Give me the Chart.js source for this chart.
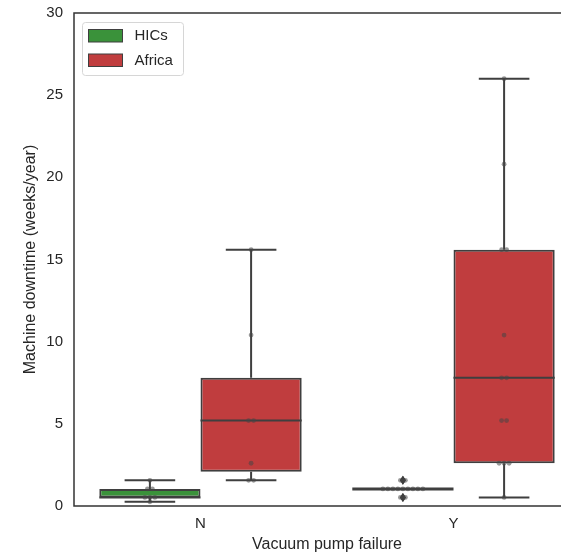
<!DOCTYPE html>
<html>
<head>
<meta charset="utf-8">
<title>Machine downtime</title>
<script src="https://cdn.jsdelivr.net/npm/chart.js@4/dist/chart.umd.min.js"></script>
<style>
  html, body { margin: 0; padding: 0; background: #fff; overflow: hidden; }
  #wrap { width: 582px; height: 558px; }
</style>
</head>
<body>
<div id="wrap"><canvas id="downtimeChart" width="582" height="558"></canvas></div>
<script>
// downtime in weeks/year, split by vacuum pump failure (N / Y)
const categories = ['N', 'Y'];
const groups = ['HICs', 'Africa'];
const groupColors = ['#3a923a', '#c03d3e'];
const hicsN = [0.26, 0.52, 0.52, 0.52, 1.04, 1.04, 1.56];
const hicsY = [0.52, 0.52, 1.04, 1.04, 1.04, 1.04, 1.04, 1.04, 1.04, 1.04, 1.04, 1.56, 1.56];
const africaN = [1.56, 1.56, 2.6, 5.2, 5.2, 10.4, 15.6];
const africaY = [0.52, 2.6, 2.6, 2.6, 5.2, 5.2, 7.8, 7.8, 10.4, 15.6, 15.6, 20.8, 26];
const yTicks = [0, 5, 10, 15, 20, 25, 30];

const samples = [[hicsN, hicsY], [africaN, africaY]];

const lineColor = '#3f3f3f';
const textColor = '#262626';
const fontFamily = '"Liberation Sans", Arial, sans-serif';

function quantile(sorted, p) {
    const pos = (sorted.length - 1) * p;
    const lo = Math.floor(pos), hi = Math.ceil(pos);
    return sorted[lo] + (sorted[hi] - sorted[lo]) * (pos - lo);
}

function boxStats(values) {
    const s = values.slice().sort((a, b) => a - b);
    const q1 = quantile(s, 0.25), med = quantile(s, 0.5), q3 = quantile(s, 0.75);
    const iqr = q3 - q1;
    const inside = s.filter(v => v >= q1 - 1.5 * iqr - 1e-9 && v <= q3 + 1.5 * iqr + 1e-9);
    return {
        q1, med, q3,
        lo: Math.min(...inside),
        hi: Math.max(...inside),
        fliers: s.filter(v => !inside.includes(v))
    };
}

const stats = samples.map(g => g.map(boxStats));

// whiskers, caps, medians, outliers and the strip of raw points
const boxDetails = {
    id: 'boxDetails',
    afterDatasetsDraw(chart) {
        const ctx = chart.ctx;
        const y = chart.scales.y;
        ctx.save();
        stats.forEach((groupStats, d) => {
            const meta = chart.getDatasetMeta(d);
            groupStats.forEach((st, i) => {
                const bar = meta.data[i];
                const cx = bar.x, w = bar.width;
                ctx.strokeStyle = lineColor;
                ctx.lineWidth = 2;
                ctx.beginPath();
                ctx.moveTo(cx, y.getPixelForValue(st.q3));
                ctx.lineTo(cx, y.getPixelForValue(st.hi));
                ctx.moveTo(cx, y.getPixelForValue(st.q1));
                ctx.lineTo(cx, y.getPixelForValue(st.lo));
                ctx.moveTo(cx - w / 4, y.getPixelForValue(st.hi));
                ctx.lineTo(cx + w / 4, y.getPixelForValue(st.hi));
                ctx.moveTo(cx - w / 4, y.getPixelForValue(st.lo));
                ctx.lineTo(cx + w / 4, y.getPixelForValue(st.lo));
                ctx.stroke();

                ctx.lineWidth = st.q1 === st.q3 ? 3 : 2;
                ctx.beginPath();
                ctx.moveTo(cx - w / 2, y.getPixelForValue(st.med));
                ctx.lineTo(cx + w / 2, y.getPixelForValue(st.med));
                ctx.stroke();

                ctx.fillStyle = lineColor;
                st.fliers.forEach(v => {
                    const py = y.getPixelForValue(v);
                    ctx.beginPath();
                    ctx.moveTo(cx, py - 4.5);
                    ctx.lineTo(cx + 3, py);
                    ctx.lineTo(cx, py + 4.5);
                    ctx.lineTo(cx - 3, py);
                    ctx.closePath();
                    ctx.fill();
                });

                // repeated values are spread sideways so they stay visible
                const counts = {};
                samples[d][i].forEach(v => { counts[v] = (counts[v] || 0) + 1; });
                const seen = {};
                ctx.fillStyle = 'rgba(70, 70, 70, 0.55)';
                samples[d][i].forEach(v => {
                    const k = counts[v];
                    const n = seen[v] = (seen[v] || 0) + 1;
                    const px = cx + (n - 1 - (k - 1) / 2) * 5;
                    ctx.beginPath();
                    ctx.arc(px, y.getPixelForValue(v), 2.4, 0, Math.PI * 2);
                    ctx.fill();
                });
            });
        });
        ctx.restore();
    },
    afterDraw(chart) {
        const ctx = chart.ctx;
        const a = chart.chartArea;
        ctx.save();
        // axes frame
        ctx.strokeStyle = '#333';
        ctx.lineWidth = 1.5;
        ctx.beginPath();
        ctx.moveTo(a.left, a.top);
        ctx.lineTo(a.left, a.bottom);
        ctx.lineTo(a.right, a.bottom);
        ctx.lineTo(a.right, a.top);
        ctx.closePath();
        ctx.stroke();

        // legend box in the upper left corner
        const lx = a.left + 8.5, ly = a.top + 9.5, lw = 101, lh = 53;
        ctx.fillStyle = 'rgba(255,255,255,0.8)';
        ctx.strokeStyle = '#d6d6d6';
        ctx.lineWidth = 1;
        ctx.beginPath();
        ctx.roundRect(lx, ly, lw, lh, 3);
        ctx.fill();
        ctx.stroke();
        ctx.font = '15px ' + fontFamily;
        ctx.textBaseline = 'middle';
        groups.forEach((name, g) => {
            const ry = ly + 7 + g * 24.5;
            ctx.fillStyle = groupColors[g];
            ctx.fillRect(lx + 6, ry, 34, 12.5);
            ctx.strokeStyle = lineColor;
            ctx.lineWidth = 1;
            ctx.strokeRect(lx + 6, ry, 34, 12.5);
            ctx.fillStyle = textColor;
            ctx.fillText(name, lx + 52, ry + 6.5);
        });
        ctx.restore();
    }
};

const ctx = document.getElementById('downtimeChart').getContext('2d');
new Chart(ctx, {
    type: 'bar',
    data: {
        labels: categories,
        datasets: groups.map((name, g) => ({
            label: name,
            data: stats[g].map(st => [st.q1, st.q3]),
            backgroundColor: groupColors[g],
            borderColor: lineColor,
            borderWidth: 2,
            borderSkipped: false,
            categoryPercentage: 0.8,
            barPercentage: 1.0
        }))
    },
    options: {
        responsive: false,
        animation: false,
        devicePixelRatio: 1,
        layout: { padding: { top: 13, right: 2, left: 0, bottom: 0 } },
        scales: {
            x: {
                type: 'category',
                offset: true,
                grid: { display: false, drawTicks: false },
                border: { display: false },
                ticks: { color: textColor, font: { size: 15, family: fontFamily }, padding: 9 },
                title: {
                    display: true,
                    text: 'Vacuum pump failure',
                    color: textColor,
                    font: { size: 16, family: fontFamily },
                    padding: { top: 0, bottom: 4 }
                },
                afterFit(scale) {
                    scale.height = 52;
                    scale.paddingLeft = 0;
                    scale.paddingRight = 0;
                }
            },
            y: {
                min: 0,
                max: 30,
                grid: { display: false, drawTicks: false },
                border: { display: false },
                afterBuildTicks(scale) { scale.ticks = yTicks.map(v => ({ value: v })); },
                ticks: { color: textColor, font: { size: 15, family: fontFamily }, padding: 11 },
                title: {
                    display: true,
                    text: 'Machine downtime (weeks/year)',
                    color: textColor,
                    font: { size: 16, family: fontFamily },
                    padding: { top: 21, bottom: 0 }
                },
                afterFit(scale) {
                    scale.width = 74;
                    scale.paddingTop = 0;
                    scale.paddingBottom = 0;
                }
            }
        },
        plugins: {
            legend: { display: false },
            tooltip: { enabled: false }
        }
    },
    plugins: [boxDetails]
});
</script>
</body>
</html>
